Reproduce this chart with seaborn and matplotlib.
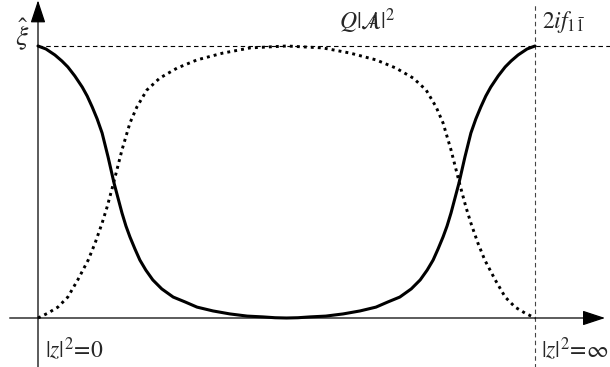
import numpy as np
import pandas as pd
import seaborn as sns
import matplotlib.pyplot as plt

# curve values (x: 0 = |z|^2=0, 1 = |z|^2=inf; y: 1 = top level)
solid_x = [0.000, 0.016, 0.034, 0.048, 0.060, 0.074, 0.089, 0.099, 0.109, 0.119, 0.129,
           0.135, 0.141, 0.147, 0.153, 0.161, 0.169, 0.177, 0.185, 0.195, 0.205, 0.217,
           0.231, 0.249, 0.272, 0.296, 0.320, 0.352, 0.386, 0.421, 0.453, 0.477, 0.500,
           0.523, 0.547, 0.579, 0.614, 0.648, 0.680, 0.704, 0.728, 0.751, 0.769, 0.783,
           0.795, 0.805, 0.815, 0.823, 0.831, 0.839, 0.847, 0.853, 0.859, 0.865, 0.871,
           0.881, 0.891, 0.901, 0.911, 0.926, 0.940, 0.952, 0.966, 0.984, 1.000]
solid_y = [1.000, 0.989, 0.967, 0.945, 0.923, 0.890, 0.849, 0.816, 0.776, 0.732, 0.680,
           0.636, 0.592, 0.544, 0.496, 0.441, 0.386, 0.338, 0.298, 0.254, 0.213, 0.176,
           0.140, 0.107, 0.077, 0.059, 0.040, 0.026, 0.015, 0.007, 0.004, 0.001, 0.000,
           0.001, 0.004, 0.007, 0.015, 0.026, 0.040, 0.059, 0.077, 0.107, 0.140, 0.176,
           0.213, 0.254, 0.298, 0.338, 0.386, 0.441, 0.496, 0.544, 0.592, 0.636, 0.680,
           0.732, 0.776, 0.816, 0.849, 0.890, 0.923, 0.945, 0.967, 0.989, 1.000]

dotted_x = [0.000, 0.020, 0.040, 0.060, 0.080, 0.101, 0.115, 0.129, 0.139, 0.151, 0.169,
            0.185, 0.199, 0.219, 0.245, 0.280, 0.320, 0.372, 0.427, 0.500, 0.573, 0.628,
            0.680, 0.720, 0.755, 0.781, 0.801, 0.815, 0.831, 0.849, 0.861, 0.871, 0.885,
            0.899, 0.920, 0.940, 0.960, 0.980, 1.000]
dotted_y = [0.000, 0.018, 0.040, 0.077, 0.140, 0.213, 0.276, 0.349, 0.408, 0.489, 0.618,
            0.717, 0.776, 0.838, 0.882, 0.919, 0.949, 0.974, 0.993, 1.000, 0.993, 0.974,
            0.949, 0.919, 0.882, 0.838, 0.776, 0.717, 0.618, 0.489, 0.408, 0.349, 0.276,
            0.213, 0.140, 0.077, 0.040, 0.018, 0.000]

sns.set_style('white')
plt.rcParams['font.family'] = ['Liberation Serif', 'DejaVu Serif']
plt.rcParams['mathtext.fontset'] = 'stix'

fig = plt.figure(figsize=(6.1, 3.67), dpi=100)
ax = fig.add_axes([0, 0, 1, 1])
ax.set_xlim(-38 / 497, 572 / 497)
ax.set_ylim(-49 / 272, 318 / 272)
ax.axis('off')

# reference lines
ax.plot([0, 1.16], [1, 1], color='k', lw=0.8, ls=(0, (4, 3)))
ax.plot([1, 1], [-0.19, 1.15], color='#444444', lw=0.8, ls=(0, (4, 3)))

# axes with arrow heads
arrow = dict(arrowstyle='-|>,head_length=1.0,head_width=0.33', color='k', lw=0.9,
             shrinkA=0, shrinkB=0, mutation_scale=14)
ax.annotate('', xy=(1.141, 0), xytext=(-0.057, 0), arrowprops=arrow)
ax.annotate('', xy=(0, 1.168), xytext=(0, -0.19), arrowprops=arrow)

sns.lineplot(x=solid_x, y=solid_y, color='k', lw=2.2, ax=ax, sort=False, estimator=None,
             solid_joinstyle='round', solid_capstyle='round')
sns.lineplot(x=dotted_x, y=dotted_y, color='k', lw=2.1, linestyle=(0, (1, 1.4)), ax=ax,
             sort=False, estimator=None)

fs = 17
ax.text(-0.032, 1.04, r'$\hat{\xi}$', fontsize=20, ha='center', va='center')
ax.text(0.662, 1.09, r'$Q|\mathcal{A}\!\!\!\!/\;|^2$', fontsize=fs, ha='center', va='center')
ax.text(1.014, 1.09, r'$2if_{1\bar{1}}$', fontsize=fs, ha='left', va='center')
ax.text(0.014, -0.118, r'$|z|^2\!=\!0$', fontsize=fs, ha='left', va='center')
ax.text(1.012, -0.118, r'$|z|^2\!=\!\infty$', fontsize=fs, ha='left', va='center')

fig.savefig('out.png', dpi=100)
